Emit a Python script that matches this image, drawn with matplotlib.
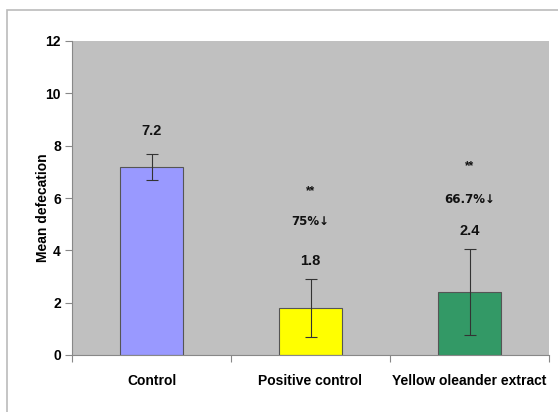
import numpy as np
import matplotlib.pyplot as plt
from matplotlib.patches import Rectangle

plt.rcParams['font.family'] = ['Liberation Sans', 'DejaVu Sans']

groups = ['Control', 'Positive control', 'Yellow oleander extract']
means = [7.2, 1.8, 2.4]
errors = [0.5, 1.1, 1.65]
colors = ['#9999FF', '#FFFF00', '#339966']
mean_labels = ['7.2', '1.8', '2.4']
stars = ['', '**', '**']
reductions = ['', '75%\u2193', '66.7%\u2193']
yticks = [0, 2, 4, 6, 8, 10, 12]

fig = plt.figure(figsize=(5.58, 4.12), dpi=100)
fig.patches.append(Rectangle((7/558, -0.1), 1.2, (412-10)/412 + 0.1,
                             transform=fig.transFigure, fill=False,
                             edgecolor='#BBBBBB', linewidth=1.2))
ax = fig.add_axes([72/558, 57/412, 477/558, 314/412])
ax.set_facecolor('#C0C0C0')

x = np.arange(len(groups))
ax.bar(x, means, width=0.4, color=colors, edgecolor='#555555', linewidth=0.8, zorder=2)
ax.errorbar(x, means, yerr=errors, fmt='none', ecolor='#333333', elinewidth=0.8,
            capsize=4, capthick=0.8, zorder=3)

# value labels and annotations
label_y = [8.55, 3.6, 4.75]
red_y = [None, 5.1, 5.95]
star_y = [None, 6.25, 7.2]
for i in range(len(groups)):
    ax.text(x[i], label_y[i], mean_labels[i], ha='center', va='center',
            fontsize=10.5, fontweight='bold', color='#111111')
    if reductions[i]:
        ax.text(x[i], red_y[i], reductions[i], ha='center', va='center',
                fontsize=8.5, fontweight='bold', color='#111111',
                family=['DejaVu Sans'])
        ax.text(x[i], star_y[i], stars[i], ha='center', va='center',
                fontsize=8.5, fontweight='bold', color='#111111')

ax.set_xlim(-0.5, 2.5)
ax.set_ylim(0, 12)
ax.set_yticks(yticks)
ax.set_yticklabels([str(v) for v in yticks], fontsize=10, fontweight='bold')
ax.set_xticks([-0.5, 0.5, 1.5, 2.5], minor=False)
ax.set_xticklabels([])
ax.set_xticks(x, minor=True)
ax.set_xticklabels(groups, minor=True, fontsize=10, fontweight='bold')
ax.tick_params(axis='x', which='minor', length=0, pad=14)
ax.tick_params(axis='x', which='major', length=5, color='#888888')
ax.tick_params(axis='y', length=5, color='#888888', pad=3)
ax.set_ylabel('Mean defecation', fontsize=10, fontweight='bold', labelpad=-3)
ax.yaxis.label.set_y(0.47)

for s in ['top', 'right']:
    ax.spines[s].set_visible(False)
ax.spines['left'].set_color('#888888')
ax.spines['bottom'].set_color('#888888')

fig.savefig('out.png', dpi=100)
